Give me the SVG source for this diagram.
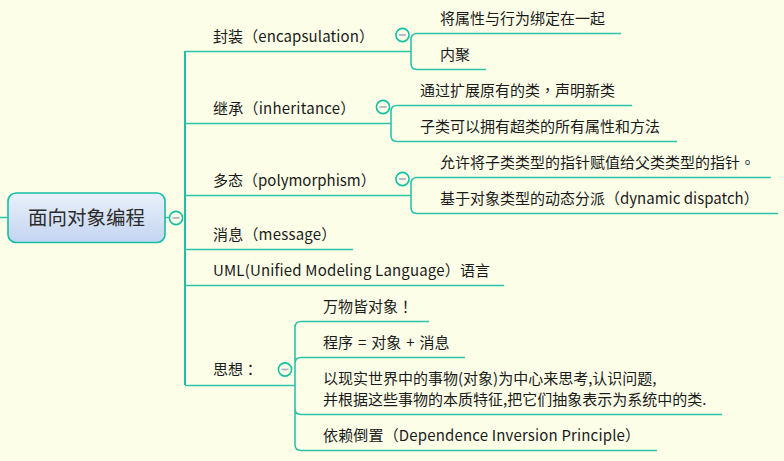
<svg xmlns="http://www.w3.org/2000/svg" width="784" height="461" viewBox="0 0 784 461">
<style>
text{font-family:"Noto Sans CJK SC","Noto Sans",sans-serif;font-size:15px;fill:#1a1a1a}
.p{font-family:"Noto Sans CJK TC",sans-serif}
.c{fill:none;stroke:#2cc4a8;stroke-width:1.6}
.t{fill:none;stroke:#1fbfa3;stroke-width:2}
.m{fill:#fdfee8;stroke:#14bfa3;stroke-width:1.6}
.d{stroke:#a9a9c9;stroke-width:1.6}
</style>
<defs>
<linearGradient id="g" x1="0" y1="0" x2="0" y2="1"><stop offset="0" stop-color="#e9f0fb"/><stop offset="1" stop-color="#c3d5f1"/></linearGradient>
<g id="col"><circle r="6.6" class="m"/><line x1="-3.5" x2="3.5" class="d"/></g>
</defs>
<rect width="784" height="461" fill="#fdfee8"/>
<g id="connectors">
<path class="c" d="M0 217.500H8M165 217.500H170"/>
<path class="t" d="M185 51V385"/>
<path class="c" d="M185 51.500H411M185 123.500H391M185 195.500H411M185 249.500H353M185 285.500H504M185 385.500H295"/>
<path class="c" d="M417 33.500H621M417 69.500H486M417 33.500Q411 33.500 411 39.500V63.500Q411 69.500 417 69.500"/>
<path class="c" d="M397 105.500H632M397 141.500H677M397 105.500Q391 105.500 391 111.500V135.500Q391 141.500 397 141.500"/>
<path class="c" d="M417 177.500H771M417 213.500H778M417 177.500Q411 177.500 411 183.500V207.500Q411 213.500 417 213.500"/>
<path class="c" d="M301 321.500H429M301 357.500H465M301 414.500H722M301 450.500H657M301 321.500Q295 321.500 295 327.500V444.500Q295 450.500 301 450.500M301 357.500Q295 357.500 295 363.500M295 408.500Q295 414.500 301 414.500"/>
</g>
<g id="root">
<rect x="8" y="193" width="157" height="49.500" rx="8" fill="url(#g)" stroke="#14bfa3" stroke-width="1.6"/>
<text x="86.500" y="225" text-anchor="middle" style="font-size:19.500px;fill:#2b2b2b">面向对象编程</text>
<use href="#col" x="176" y="218"/>
</g>
<g id="encapsulation"><text x="213" y="41.500" style="letter-spacing:.1px">封装（encapsulation）</text><use href="#col" x="402.500" y="35"/></g>
<g id="inheritance"><text x="213" y="113.500" style="letter-spacing:.23px">继承（inheritance）</text><use href="#col" x="383" y="107"/></g>
<g id="polymorphism"><text x="213" y="185.500">多态（polymorphism）</text><use href="#col" x="402.500" y="179"/></g>
<g id="message"><text x="213" y="239.500" style="letter-spacing:.2px">消息（message）</text></g>
<g id="uml"><text x="213" y="275.500" style="letter-spacing:.17px">UML(Unified Modeling Language）语言</text></g>
<g id="thought"><text x="213" y="374.500">思想<tspan class="p">：</tspan></text><use href="#col" x="285" y="369.500"/></g>
<g id="e1"><text x="440" y="24">将属性与行为绑定在一起</text></g>
<g id="e2"><text x="440" y="60">内聚</text></g>
<g id="i1"><text x="420" y="96">通过扩展原有的类<tspan class="p">，</tspan>声明新类</text></g>
<g id="i2"><text x="420" y="132">子类可以拥有超类的所有属性和方法</text></g>
<g id="p1"><text x="440" y="168">允许将子类类型的指针赋值给父类类型的指针<tspan class="p">。</tspan></text></g>
<g id="p2"><text x="440" y="204">基于对象类型的动态分派（dynamic dispatch）</text></g>
<g id="t1"><text x="323" y="312">万物皆对象<tspan class="p">！</tspan></text></g>
<g id="t2"><text x="323" y="348" style="word-spacing:1.6px">程序 = 对象 + 消息</text></g>
<g id="t3"><text x="323" y="384">以现实世界中的事物(对象)为中心来思考,认识问题,</text><text x="323" y="405">并根据这些事物的本质特征,把它们抽象表示为系统中的类.</text></g>
<g id="t4"><text x="323" y="441" style="letter-spacing:.16px">依赖倒置（Dependence Inversion Principle）</text></g>
</svg>
